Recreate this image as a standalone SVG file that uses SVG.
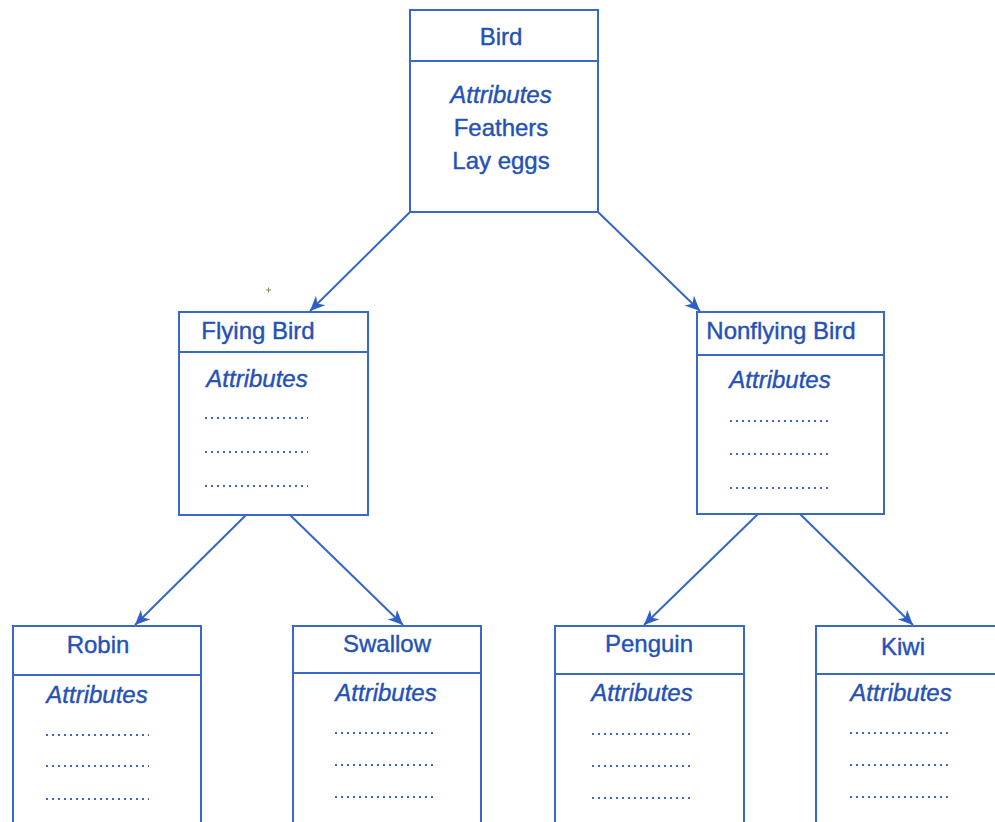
<svg xmlns="http://www.w3.org/2000/svg" width="995" height="822" viewBox="0 0 995 822">
<defs>
<marker id="arr" viewBox="0 0 10 10" refX="10" refY="5" markerWidth="15" markerHeight="15" markerUnits="userSpaceOnUse" orient="auto">
<path d="M0,0.5 L10,5 L0,9.5 L3,5 Z" fill="#2d5fc4"/>
</marker>
<style>
.box{fill:#fff;stroke:#3a68c8;stroke-width:2}
.div{stroke:#3a68c8;stroke-width:2}
.t{font-family:"Liberation Sans",Arial,sans-serif;font-size:24px;fill:#2451b8;stroke:#2451b8;stroke-width:0.4;text-anchor:middle}
.i{font-style:italic}
.dot{stroke:#3a68c8;stroke-width:2;stroke-dasharray:2 4}
.c{stroke:#3566c6;stroke-width:2;fill:none;marker-end:url(#arr)}
</style>
</defs>
<rect width="995" height="822" fill="#fff"/>
<g id="connectors">
<line class="c" x1="410" y1="212" x2="310" y2="311"/>
<line class="c" x1="598" y1="212" x2="700" y2="311"/>
<line class="c" x1="246" y1="515" x2="135" y2="625"/>
<line class="c" x1="290" y1="515" x2="403" y2="625"/>
<line class="c" x1="758" y1="514" x2="644" y2="625"/>
<line class="c" x1="800" y1="514" x2="913" y2="625"/>
</g>
<g id="bird">
<rect class="box" x="410" y="10" width="188" height="202"/>
<line class="div" x1="410" y1="61" x2="598" y2="61"/>
<text class="t" x="501" y="45">Bird</text>
<text class="t i" x="501" y="103">Attributes</text>
<text class="t" x="501" y="136">Feathers</text>
<text class="t" x="501" y="169">Lay eggs</text>
</g>
<g id="flying">
<rect class="box" x="179" y="312" width="189" height="203"/>
<line class="div" x1="179" y1="352" x2="368" y2="352"/>
<text class="t" x="258" y="339">Flying Bird</text>
<text class="t i" x="257" y="387">Attributes</text>
<line class="dot" x1="205" y1="418" x2="308" y2="418"/>
<line class="dot" x1="205" y1="452" x2="308" y2="452"/>
<line class="dot" x1="205" y1="486" x2="308" y2="486"/>
</g>
<g id="nonflying">
<rect class="box" x="697" y="312" width="187" height="202"/>
<line class="div" x1="697" y1="355" x2="884" y2="355"/>
<text class="t" x="781" y="339">Nonflying Bird</text>
<text class="t i" x="780" y="388">Attributes</text>
<line class="dot" x1="730" y1="421" x2="832" y2="421"/>
<line class="dot" x1="730" y1="454" x2="832" y2="454"/>
<line class="dot" x1="730" y1="488" x2="832" y2="488"/>
</g>
<g id="robin">
<rect class="box" x="13" y="626" width="188" height="210"/>
<line class="div" x1="13" y1="675" x2="201" y2="675"/>
<text class="t" x="98" y="653">Robin</text>
<text class="t i" x="97" y="703">Attributes</text>
<line class="dot" x1="46" y1="735" x2="149" y2="735"/>
<line class="dot" x1="46" y1="766" x2="149" y2="766"/>
<line class="dot" x1="46" y1="799" x2="149" y2="799"/>
</g>
<g id="swallow">
<rect class="box" x="293" y="626" width="188" height="210"/>
<line class="div" x1="293" y1="673" x2="481" y2="673"/>
<text class="t" x="387" y="652">Swallow</text>
<text class="t i" x="386" y="701">Attributes</text>
<line class="dot" x1="335" y1="733" x2="437" y2="733"/>
<line class="dot" x1="335" y1="765" x2="437" y2="765"/>
<line class="dot" x1="335" y1="797" x2="437" y2="797"/>
</g>
<g id="penguin">
<rect class="box" x="555" y="626" width="189" height="210"/>
<line class="div" x1="555" y1="674" x2="744" y2="674"/>
<text class="t" x="649" y="652">Penguin</text>
<text class="t i" x="642" y="701">Attributes</text>
<line class="dot" x1="592" y1="734" x2="694" y2="734"/>
<line class="dot" x1="592" y1="766" x2="694" y2="766"/>
<line class="dot" x1="592" y1="798" x2="694" y2="798"/>
</g>
<g id="kiwi">
<rect class="box" x="816" y="626" width="200" height="210"/>
<line class="div" x1="816" y1="674" x2="995" y2="674"/>
<text class="t" x="903" y="655">Kiwi</text>
<text class="t i" x="901" y="701">Attributes</text>
<line class="dot" x1="850" y1="733" x2="952" y2="733"/>
<line class="dot" x1="850" y1="765" x2="952" y2="765"/>
<line class="dot" x1="850" y1="797" x2="952" y2="797"/>
</g>
<g id="mark" stroke="#8a8a50" stroke-width="1">
<line x1="266" y1="290" x2="271" y2="290"/>
<line x1="268.5" y1="287.5" x2="268.5" y2="292.5"/>
</g>
</svg>
